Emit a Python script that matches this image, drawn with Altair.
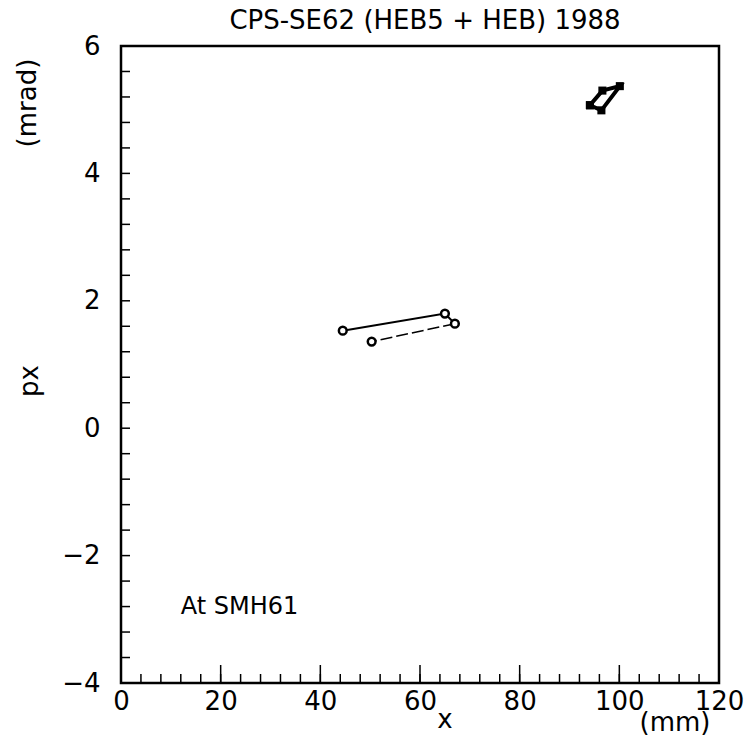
import altair as alt
import pandas as pd

# Data
open_x = [44.5, 65.0, 67.0, 50.3]
open_y = [1.53, 1.80, 1.64, 1.36]
filled_x = [94.1, 96.6, 100.1, 96.4, 94.1]
filled_y = [5.07, 5.30, 5.37, 4.99, 5.07]

x_labels = [0, 20, 40, 60, 80, 100, 120]
y_labels = [-4, -2, 0, 2, 4, 6]
x_minor = [i * 4 for i in range(1, 30)]
y_minor = [round(-4 + i * 0.4, 1) for i in range(1, 25)]

W, H = 598, 637
FONT = "DejaVu Sans"

xs = alt.Scale(domain=[0, 120], nice=False)
ys = alt.Scale(domain=[-4, 6], nice=False)

open_df = pd.DataFrame({"x": open_x, "y": open_y, "o": range(len(open_x))})
solid_df = open_df.iloc[:3]
dash_df = open_df.iloc[2:]
filled_df = pd.DataFrame({"x": filled_x, "y": filled_y, "o": range(len(filled_x))})

base_x = alt.X("x:Q", scale=xs, axis=alt.Axis(values=x_labels, ticks=False, domain=False, grid=False,
                                                labelFontSize=26, labelFont=FONT, labelPadding=5,
                                                labelColor="black", title=None, labelFlush=False,
                                                format="d"))
base_y = alt.Y("y:Q", scale=ys, axis=alt.Axis(values=y_labels, ticks=False, domain=False, grid=False,
                                                labelFontSize=26, labelFont=FONT, labelPadding=21,
                                                labelColor="black", title=None, format="d",
                                                labelFlush=False))

solid = alt.Chart(solid_df).mark_line(color="black", strokeWidth=2).encode(x=base_x, y=base_y, order="o:Q")
dashed = alt.Chart(dash_df).mark_line(color="black", strokeWidth=1.5, strokeDash=[12, 4]).encode(
    x=alt.X("x:Q", scale=xs), y=alt.Y("y:Q", scale=ys), order="o:Q")
open_pts = alt.Chart(open_df).mark_point(shape="circle", filled=True, fill="white", stroke="black",
                                          strokeWidth=2.5, size=60, opacity=1, fillOpacity=1,
                                          strokeOpacity=1).encode(
    x=alt.X("x:Q", scale=xs), y=alt.Y("y:Q", scale=ys))
filled_line = alt.Chart(filled_df).mark_line(color="black", strokeWidth=4).encode(
    x=alt.X("x:Q", scale=xs), y=alt.Y("y:Q", scale=ys), order="o:Q")
filled_pts = alt.Chart(filled_df).mark_point(shape="square", filled=True, color="black", size=65, opacity=1).encode(
    x=alt.X("x:Q", scale=xs), y=alt.Y("y:Q", scale=ys))

# inward ticks
xmin_df = pd.DataFrame({"x": x_minor})
xmaj_df = pd.DataFrame({"x": [20, 40, 60, 80, 100]})
ymin_df = pd.DataFrame({"y": y_minor})
xmin_ticks = alt.Chart(xmin_df).mark_rule(color="black", strokeWidth=1.5).encode(
    x=alt.X("x:Q", scale=xs), y=alt.value(H), y2=alt.value(H - 9))
xmaj_ticks = alt.Chart(xmaj_df).mark_rule(color="black", strokeWidth=1.5).encode(
    x=alt.X("x:Q", scale=xs), y=alt.value(H), y2=alt.value(H - 18))
ymin_ticks = alt.Chart(ymin_df).mark_rule(color="black", strokeWidth=1.5).encode(
    y=alt.Y("y:Q", scale=ys), x=alt.value(0), x2=alt.value(9))

ann = pd.DataFrame({"x": [12.0], "y": [-2.8], "t": ["At SMH61"]})
ann_text = alt.Chart(ann).mark_text(font=FONT, fontSize=24, align="left", baseline="middle", color="black").encode(
    x=alt.X("x:Q", scale=xs), y=alt.Y("y:Q", scale=ys), text="t:N")

def label(txt, x, y, size=26, angle=0):
    return alt.Chart(pd.DataFrame({"t": [txt]})).mark_text(
        font=FONT, fontSize=size, angle=angle, align="center", baseline="middle", color="black"
    ).encode(x=alt.value(x), y=alt.value(y), text="t:N")

title = label("CPS-SE62 (HEB5 + HEB) 1988", 304, -25, size=26)
xt = label("x", 324, 674)
xu = label("(mm)", 554, 677)
yt = label("px", -91, 335, angle=270)
yu = label("(mrad)", -93, 57, angle=270)

chart = alt.layer(
    solid, dashed, open_pts, filled_line, filled_pts,
    xmin_ticks, xmaj_ticks, ymin_ticks, ann_text,
    title, xt, xu, yt, yu
).properties(
    width=W, height=H, autosize="none", background="white",
    padding={"left": 121, "top": 46, "right": 25, "bottom": 59},
).configure_view(stroke="black", strokeWidth=2.5)

chart.save("out.html", embed_options={"renderer": "svg", "actions": False})
